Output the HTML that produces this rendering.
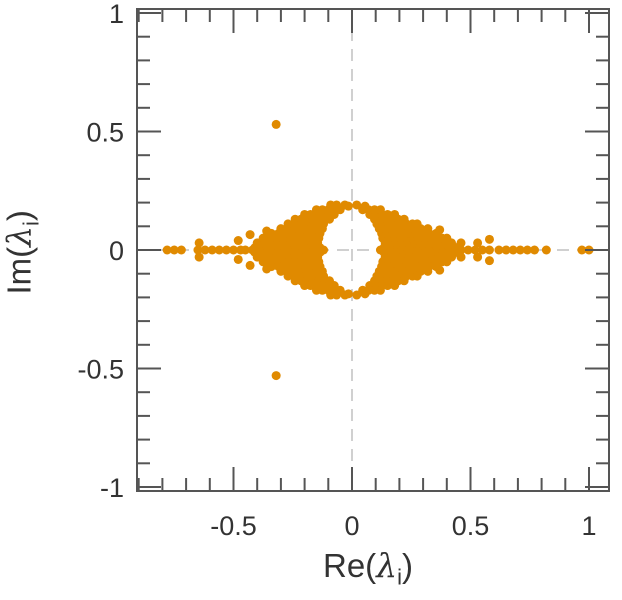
<!DOCTYPE html>
<html><head><meta charset="utf-8"><style>
html,body{margin:0;padding:0;background:#fff;}
svg{display:block;font-family:"Liberation Sans",sans-serif;}
</style></head><body>
<svg id="chart" width="622" height="600">
<g id="grid"></g><g id="pts"></g><g id="axes"></g>
</svg>
<script>
// real eigenvalues (im = 0)
const realRe = [-0.78,-0.75,-0.72,-0.65,-0.62,-0.59,-0.56,-0.53,-0.50,-0.47,-0.45,-0.42,-0.40,-0.38,-0.36,-0.34,-0.32,-0.30,-0.28,-0.26,-0.24,-0.22,-0.20,-0.18,-0.16,-0.14,-0.12,
0.12,0.14,0.16,0.18,0.20,0.22,0.24,0.26,0.28,0.30,0.32,0.34,0.36,0.38,0.40,0.43,0.46,0.49,0.52,0.55,0.58,0.62,0.65,0.68,0.71,0.74,0.77,0.82,0.97,1.0];
// complex conjugate pairs [re, im] (upper half); lower half drawn as conjugates
const pairs = [[-0.32,0.53],
[-0.41,0.01],[-0.385,0.01],[-0.36,0.01],[-0.335,0.01],[-0.31,0.01],[-0.285,0.01],[-0.26,0.01],[-0.235,0.01],[-0.21,0.01],[-0.185,0.01],[-0.16,0.01],[-0.135,0.01],
[0.135,0.01],[0.16,0.01],[0.185,0.01],[0.21,0.01],[0.235,0.01],[0.26,0.01],[0.285,0.01],[0.31,0.01],[0.335,0.01],[0.36,0.01],[0.385,0.01],[0.41,0.01],[0.44,0.01],
[-0.40,0.03],[-0.37,0.03],[-0.345,0.03],[-0.32,0.03],[-0.295,0.03],[-0.27,0.03],[-0.245,0.03],[-0.22,0.03],[-0.195,0.03],[-0.17,0.03],[-0.145,0.03],
[0.14,0.03],[0.165,0.03],[0.19,0.03],[0.215,0.03],[0.24,0.03],[0.265,0.03],[0.29,0.03],[0.315,0.03],[0.34,0.03],[0.365,0.03],[0.39,0.03],[0.42,0.03],
[-0.375,0.05],[-0.35,0.05],[-0.32,0.05],[-0.29,0.05],[-0.265,0.05],[-0.24,0.05],[-0.215,0.05],[-0.19,0.05],[-0.165,0.05],[-0.14,0.05],
[0.13,0.05],[0.155,0.05],[0.18,0.05],[0.205,0.05],[0.23,0.05],[0.255,0.05],[0.28,0.05],[0.305,0.05],[0.33,0.05],[0.355,0.05],[0.38,0.05],[0.40,0.05],
[-0.34,0.07],[-0.31,0.07],[-0.285,0.07],[-0.26,0.07],[-0.235,0.07],[-0.21,0.07],[-0.185,0.07],[-0.16,0.07],[-0.135,0.07],
[0.125,0.07],[0.15,0.07],[0.175,0.07],[0.20,0.07],[0.225,0.07],[0.25,0.07],[0.275,0.07],[0.30,0.07],[0.325,0.07],[0.355,0.07],
[-0.30,0.09],[-0.275,0.09],[-0.25,0.09],[-0.225,0.09],[-0.20,0.09],[-0.175,0.09],[-0.15,0.09],[-0.125,0.09],
[0.115,0.09],[0.14,0.09],[0.165,0.09],[0.19,0.09],[0.215,0.09],[0.24,0.09],[0.265,0.09],[0.29,0.09],[0.32,0.09],
[-0.27,0.11],[-0.245,0.11],[-0.22,0.11],[-0.195,0.11],[-0.17,0.11],[-0.145,0.11],[-0.12,0.11],
[0.105,0.11],[0.13,0.11],[0.155,0.11],[0.18,0.11],[0.205,0.11],[0.23,0.11],[0.255,0.11],[0.275,0.11],
[-0.24,0.13],[-0.215,0.13],[-0.19,0.13],[-0.165,0.13],[-0.14,0.13],[-0.115,0.13],[-0.095,0.13],
[0.095,0.13],[0.12,0.13],[0.145,0.13],[0.17,0.13],[0.195,0.13],[0.22,0.13],
[-0.20,0.15],[-0.175,0.15],[-0.15,0.15],[-0.125,0.15],[-0.10,0.15],[-0.075,0.15],
[0.075,0.15],[0.10,0.15],[0.125,0.15],[0.15,0.15],[0.18,0.15],
[-0.15,0.17],[-0.125,0.17],[-0.10,0.17],[-0.075,0.17],[-0.05,0.17],
[0.045,0.17],[0.07,0.17],[0.095,0.17],[0.12,0.17],
[-0.09,0.19],[-0.065,0.19],[-0.03,0.19],[-0.015,0.185],[0.02,0.19],[0.055,0.185],
[-0.43,0.065],[-0.48,0.04],[-0.645,0.03],[0.53,0.03],[0.58,0.045],[0.46,0.03],[0.37,0.085],[-0.36,0.08]];
const xTicks = [-0.5,0,0.5,1];
const yTicks = [-1,-0.5,0,0.5,1];
const xTickLabels = ["-0.5","0","0.5","1"];
const yTickLabels = ["-1","-0.5","0","0.5","1"];

const L=137,R=609,T=9,B=491;
const x0=352, y0=250, k=237;
const X=v=>x0+v*k, Y=v=>y0-v*k;
const NS="http://www.w3.org/2000/svg";
function mk(tag,attrs,parent){const e=document.createElementNS(NS,tag);for(const a in attrs)e.setAttribute(a,attrs[a]);parent.appendChild(e);return e;}
const grid=document.getElementById('grid'),pts=document.getElementById('pts'),axes=document.getElementById('axes');
let g=mk('line',{x1:X(0),x2:X(0),y1:T,y2:B,stroke:'#d0d0d0','stroke-width':2,'stroke-dasharray':'12,8'},grid);


g=mk('line',{x1:L,x2:R,y1:Y(0),y2:Y(0),stroke:'#d0d0d0','stroke-width':2,'stroke-dasharray':'12,8'},grid);



const col='#e08a00';
realRe.forEach(r=>{const c=mk('circle',{cx:X(r),cy:Y(0),r:4.5,fill:col},pts);

});
pairs.forEach(p=>{[p[1],-p[1]].forEach(im=>{const c=mk('circle',{cx:X(p[0]),cy:Y(im),r:4.5,fill:col},pts);

});});

const fr=mk('rect',{x:L,y:T,width:R-L,height:B-T,fill:'none',stroke:'#555','stroke-width':2},axes);


for(let i=-9;i<=10;i++){const v=i/10;const maj=(i%5===0);const len=maj?24:13;const x=X(v);
 if(x>L+1&&x<R-1){mk('line',{x1:x,x2:x,y1:T,y2:T+len,stroke:'#555','stroke-width':2},axes);mk('line',{x1:x,x2:x,y1:B,y2:B-len,stroke:'#555','stroke-width':2},axes);}}
for(let i=-10;i<=10;i++){const v=i/10;const maj=(i%5===0);const len=maj?24:13;const y=Y(v);
 if(y>T&&y<B){mk('line',{x1:L,x2:L+len,y1:y,y2:y,stroke:'#555','stroke-width':2},axes);mk('line',{x1:R,x2:R-len,y1:y,y2:y,stroke:'#555','stroke-width':2},axes);}}
xTicks.forEach((v,i)=>{const t=mk('text',{x:X(v),y:535,'text-anchor':'middle','font-size':27,fill:'#333'},axes);t.textContent=xTickLabels[i];

});
yTicks.forEach((v,i)=>{const t=mk('text',{x:124,y:Y(v)+10,'text-anchor':'end','font-size':27,fill:'#333'},axes);t.textContent=yTickLabels[i];

});
</script>
<div style="position:absolute;left:0;top:0;width:622px;height:600px;pointer-events:none;font-family:'Liberation Sans','DejaVu Sans',sans-serif;color:#333;">
<div style="position:absolute;left:323px;top:546px;font-size:33px;white-space:nowrap;">Re(<i style="font-family:'DejaVu Serif',serif;">λ</i><sub style="font-size:22px;">i</sub>)</div>
<div style="position:absolute;left:-38px;top:230px;font-size:33px;white-space:nowrap;transform:rotate(-90deg);transform-origin:center;width:120px;text-align:center;">Im(<i style="font-family:'DejaVu Serif',serif;">λ</i><sub style="font-size:22px;">i</sub>)</div>
</div>
</body></html>
